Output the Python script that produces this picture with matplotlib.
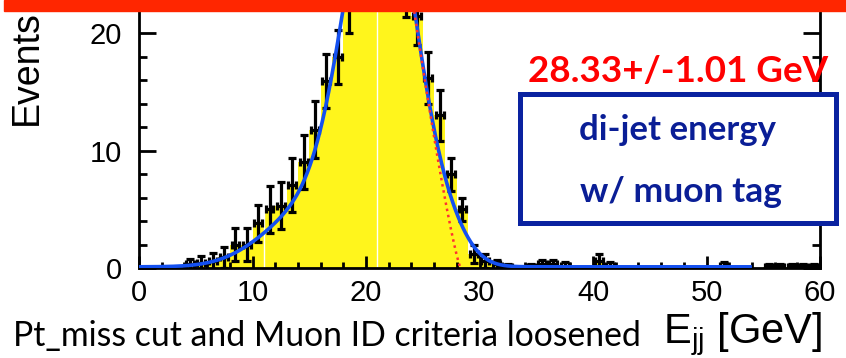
import numpy as np
import matplotlib
matplotlib.use("Agg")
import matplotlib.pyplot as plt
from matplotlib.patches import Rectangle

# --- histogram: di-jet energy, 1 GeV bins from 0 to 60 ---
bin_edges = np.arange(0, 61, 1.0)
events = [0, 0, 0, 0, 0.3, 0.4, 0.6, 0.9, 2.0, 2.0,
          3.8, 5.0, 5.3, 7.1, 9.0, 11.8, 15.9, 18.0, 22.5, 25.0,
          28.0, 29.0, 28.0, 24.0, 21.5, 16.2, 13.0, 8.0, 5.0, 1.2,
          0.6, 0.3, 0.1, 0, 0.1, 0.3, 0.3, 0.2, 0, 0,
          0.6, 0.2, 0, 0, 0, 0, 0, 0, 0, 0,
          0, 0.2, 0, 0, 0, 0.1, 0.1, 0.1, 0.1, 0.1]
errors = [0, 0, 0, 0, 0.5, 0.6, 0.7, 0.9, 1.4, 1.4,
          1.6, 2.0, 2.0, 2.3, 2.3, 2.4, 2.3, 2.3, 2.5, 2.6,
          2.7, 2.7, 2.7, 2.6, 2.5, 2.2, 2.2, 1.4, 1.0, 0.8,
          0.6, 0.4, 0.2, 0, 0.2, 0.4, 0.4, 0.3, 0, 0,
          0.6, 0.3, 0, 0, 0, 0, 0, 0, 0, 0,
          0, 0.3, 0, 0, 0, 0.2, 0.2, 0.2, 0.2, 0.2]

# --- fit curve parameters (core + low tail + high tail) ---
core_amp, core_mean, core_sigma = 34.0, 21.3, 3.1
low_amp, low_mean, low_sigma = 4.2, 14.5, 3.8
high_amp, high_mean, high_sigma = 1.3, 27.5, 1.8
fit_floor = 0.1
fit_range = (0.0, 54.0)

# --- kinematic edge component ---
edge_position = 28.33
edge_error = 1.01
edge_scale, edge_power = 4.04, 1.2

x_ticks = [0, 10, 20, 30, 40, 50, 60]
y_ticks = [0, 10, 20]
fill_gaps = [11, 21]

PX = 1 / 100.0
fig = plt.figure(figsize=(846 * PX, 358 * PX), dpi=100)
ax = fig.add_axes([139 / 846, 1 - 268 / 358, (820 - 139) / 846, (268 - 11) / 358])

centers = 0.5 * (bin_edges[:-1] + bin_edges[1:])
ev = np.array(events)
er = np.array(errors)

ax.stairs(ev, bin_edges, fill=True, color="#fff51c", zorder=1)
for g in fill_gaps:
    h = ev[int(g)] if int(g) < len(ev) else 0
    ax.plot([g, g], [0, h], color="white", lw=1.0, zorder=1.5)

mask = ev > 0
ax.errorbar(centers[mask], ev[mask], yerr=er[mask], xerr=0.35, fmt="none",
            ecolor="black", elinewidth=2.3, capsize=3, capthick=2.3, zorder=3)

xf = np.linspace(fit_range[0], fit_range[1], 1200)
fit = (core_amp * np.exp(-0.5 * ((xf - core_mean) / core_sigma) ** 2)
       + low_amp * np.exp(-0.5 * ((xf - low_mean) / low_sigma) ** 2)
       + high_amp * np.exp(-0.5 * ((xf - high_mean) / high_sigma) ** 2)
       + fit_floor)
ax.plot(xf, fit, color="#1450f0", lw=2.6, zorder=4, solid_capstyle="butt")

xe = np.linspace(23.5, edge_position, 300)
edge = edge_scale * np.clip(edge_position - xe, 0, None) ** edge_power
ax.plot(xe, edge, color="#ff3030", lw=1.8, ls=(0, (1, 1.5)), zorder=5)

ax.set_xlim(0, 60)
ax.set_ylim(0, 21.9)
ax.set_xticks(x_ticks)
ax.set_yticks(y_ticks)
ax.set_xticks(np.arange(0, 61, 2), minor=True)
ax.set_yticks(np.arange(0, 22, 2), minor=True)
ax.tick_params(axis="both", which="both", direction="in", width=2.0,
               labelsize=21, colors="black")
ax.tick_params(axis="x", which="major", length=9, pad=8, top=False)
ax.tick_params(axis="x", which="minor", length=4.5, top=False)
ax.tick_params(axis="y", which="major", length=12.5, pad=12, right=True)
ax.tick_params(axis="y", which="minor", length=6, right=True)
for lab in ax.get_xticklabels() + ax.get_yticklabels():
    lab.set_family("Liberation Sans")
for s in ["left", "right", "bottom"]:
    ax.spines[s].set_linewidth(2.0)
ax.spines["top"].set_visible(False)

fig.text(27 / 846, 1 - 125 / 358, "Events", rotation=90, fontsize=27,
         family="Liberation Sans", ha="center", va="bottom")
fig.text(822 / 846, 1 - 343 / 358, r"E$_{\mathregular{jj}}$ [GeV]", fontsize=30,
         family="Liberation Sans", ha="right", va="baseline")
fig.text(13 / 846, 1 - 346 / 358, "Pt_miss cut and Muon ID criteria loosened",
         fontsize=24.3, family="Lato", ha="left", va="baseline")

# title band
fig.add_artist(Rectangle((4 / 846, 1 - 11 / 358), 842 / 846, 11 / 358,
                         transform=fig.transFigure, color="#ff2600", zorder=10))

fig.text(828 / 846, 1 - 82 / 358, f"{edge_position:.2f}+/-{edge_error:.2f} GeV",
         color="#ff0000", fontsize=26.5, fontweight="bold", family="Lato",
         ha="right", va="baseline", zorder=11)
fig.add_artist(Rectangle((520 / 846, 1 - 223 / 358), 316 / 846, 129 / 358,
                         transform=fig.transFigure, facecolor="white",
                         edgecolor="#0a22a0", lw=3.6, zorder=11))
fig.text(677 / 846, 1 - 130 / 358, "di-jet energy", color="#0a1e96",
         fontsize=25, fontweight="bold", family="Lato", ha="center", va="center", zorder=12)
fig.text(681 / 846, 1 - 192 / 358, "w/ muon tag", color="#0a1e96",
         fontsize=25.5, fontweight="bold", family="Lato", ha="center", va="center", zorder=12)

fig.savefig("out.png", dpi=100)
